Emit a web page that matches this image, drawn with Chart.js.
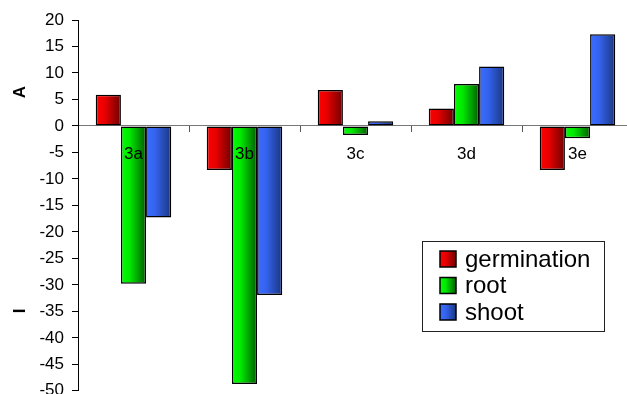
<!DOCTYPE html>
<html>
<head>
<meta charset="utf-8">
<script src="https://cdn.jsdelivr.net/npm/chart.js@4"></script>
<style>
  html, body { margin: 0; padding: 0; background: #fff; overflow: hidden; }
  #wrap { width: 627px; height: 394px; overflow: hidden; position: relative; }
  #wrap canvas { position: absolute; left: 0; top: 0; }
</style>
</head>
<body>
<div id="wrap"><canvas id="ch_bars" width="640" height="409"></canvas></div>
<script>
/* categories + series */
const categories  = ['3a', '3b', '3c', '3d', '3e'];
const germination = [5.9, -8.3, 6.8, 3.3, -8.3];
const root        = [-29.8, -48.7, -1.7, 7.9, -2.3];
const shoot       = [-17.3, -31.9, 0.9, 11.2, 17.3];
const yTicks      = [20, 15, 10, 5, 0, -5, -10, -15, -20, -25, -30, -35, -40, -45, -50];

// light -> dark horizontal shading, like the old office 3d fill
const SHADES = {
  germination: ['#ff0000', '#e80000', '#700000'],
  root:        ['#00ff00', '#00e800', '#005f00'],
  shoot:       ['#3a6dff', '#3563f0', '#1a367f']
};
const FONT = 'Arial, "Liberation Sans", sans-serif';

function shade(ctx, x0, x1, s) {
  const g = ctx.createLinearGradient(x0, 0, x1, 0);
  g.addColorStop(0, s[0]);
  g.addColorStop(0.35, s[1]);
  g.addColorStop(1, s[2]);
  return g;
}

/* paint gradients onto bars once their geometry is known */
const gradientBars = {
  id: 'gradientBars',
  beforeDatasetsDraw(chart) {
    const ctx = chart.ctx;
    chart.data.datasets.forEach((ds, i) => {
      const meta = chart.getDatasetMeta(i);
      meta.data.forEach(bar => {
        const x0 = bar.x - bar.width / 2;
        // own copy per bar, options can be shared between elements
        bar.options = Object.assign({}, bar.options, {
          backgroundColor: shade(ctx, x0, x0 + bar.width, SHADES[ds.key])
        });
      });
    });
  }
};

/* zero line ticks, category labels, axis letters and the boxed legend */
const decorations = {
  id: 'decorations',
  afterDatasetsDraw(chart) {
    const { ctx, chartArea } = chart;
    const x = chart.scales.x, y = chart.scales.y;
    const y0 = y.getPixelForValue(0);
    ctx.save();

    // category boundary tick marks on the zero line
    ctx.strokeStyle = '#555';
    ctx.lineWidth = 1;
    const step = (chartArea.right - chartArea.left) / categories.length;
    for (let i = 1; i < categories.length; i++) {
      const px = Math.round(chartArea.left + i * step) + 0.5;
      ctx.beginPath(); ctx.moveTo(px, y0); ctx.lineTo(px, y0 + 6); ctx.stroke();
    }

    // category labels sit just under the zero line
    ctx.fillStyle = '#000';
    ctx.font = '17px ' + FONT;
    ctx.textAlign = 'center';
    ctx.textBaseline = 'middle';
    categories.forEach((c, i) => ctx.fillText(c, x.getPixelForValue(i), y0 + 28));

    // rotated axis letters
    ctx.font = 'bold 17px ' + FONT;
    [['A', 92], ['I', 311]].forEach(([t, py]) => {
      ctx.save();
      ctx.translate(20, py);
      ctx.rotate(-Math.PI / 2);
      ctx.fillText(t, 0, 0);
      ctx.restore();
    });

    // legend box
    const lx = 422, ly = 241, lw = 182, lh = 90;
    ctx.fillStyle = '#fff';
    ctx.fillRect(lx, ly, lw, lh);
    ctx.strokeStyle = '#222';
    ctx.lineWidth = 1;
    ctx.strokeRect(lx + 0.5, ly + 0.5, lw, lh);
    ctx.font = '24px ' + FONT;
    ctx.textAlign = 'left';
    chart.data.datasets.forEach((ds, i) => {
      const cy = 259 + i * 26.5;
      const sx = 440, sz = 16;
      ctx.fillStyle = shade(ctx, sx, sx + sz, SHADES[ds.key]);
      ctx.fillRect(sx, cy - sz / 2, sz, sz);
      ctx.strokeStyle = '#000';
      ctx.lineWidth = 1.5;
      ctx.strokeRect(sx, cy - sz / 2, sz, sz);
      ctx.fillStyle = '#000';
      ctx.fillText(ds.label, 465, cy + 1);
    });
    ctx.restore();
  }
};

const bar = (key, label, data) => ({
  key, label, data,
  backgroundColor: SHADES[key][0],
  borderColor: '#000',
  borderWidth: 1.5,
  borderSkipped: false,
  categoryPercentage: 0.68,
  barPercentage: 1
});

new Chart(document.getElementById('ch_bars').getContext('2d'), {
  type: 'bar',
  data: {
    labels: categories,
    datasets: [
      bar('germination', 'germination', germination),
      bar('root', 'root', root),
      bar('shoot', 'shoot', shoot)
    ]
  },
  options: {
    responsive: false,
    animation: false,
    layout: { padding: { top: 20, right: 7, bottom: 11, left: 0 } },
    plugins: { legend: { display: false }, tooltip: { enabled: false } },
    scales: {
      x: { display: false },
      y: {
        min: -50, max: 20,
        afterFit: s => { s.width = 78; },
        afterBuildTicks: s => { s.ticks = yTicks.map(v => ({ value: v })); },
        border: { display: true, color: '#000', width: 1 },
        grid: {
          color: c => c.tick && c.tick.value === 0 ? '#777' : 'rgba(0,0,0,0)',
          tickColor: '#000',
          tickLength: 6,
          drawTicks: true
        },
        ticks: { color: '#000', font: { family: FONT, size: 17 }, padding: 8 }
      }
    }
  },
  plugins: [gradientBars, decorations]
});
</script>
</body>
</html>
